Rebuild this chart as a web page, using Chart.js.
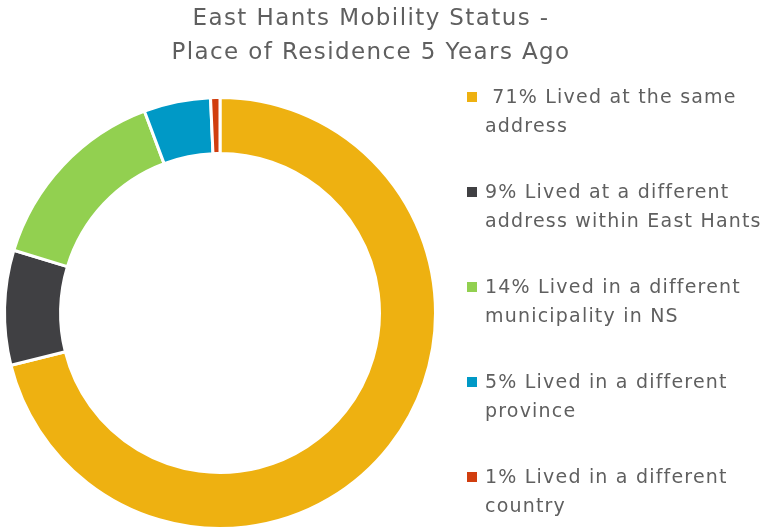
<!DOCTYPE html>
<html>
<head>
<meta charset="utf-8">
<script src="https://cdn.jsdelivr.net/npm/chart.js@4.4.0/dist/chart.umd.min.js"></script>
<style>
  html, body { margin: 0; padding: 0; background: #fff; }
  #wrap { position: relative; width: 764px; height: 531px; overflow: hidden; font-family: "DejaVu Sans", sans-serif; color: #5f5f5f; }
  #pie { position: absolute; left: 0; top: 0; }
  #title { position: absolute; left: 0; width: 742px; top: 0; text-align: center; font-size: 23px; line-height: 34px; letter-spacing: 1.4px; }
  .item { position: absolute; left: 467px; width: 297px; font-size: 19px; line-height: 29px; letter-spacing: 1.2px; }
  .item .box { position: absolute; left: 0; top: 10px; width: 10px; height: 10px; }
  .item .txt { margin-left: 18px; white-space: pre; }
</style>
</head>
<body>
<div id="wrap">
  <canvas id="pie" width="764" height="531"></canvas>
  <div id="title">East Hants Mobility Status -<br>Place of Residence 5 Years Ago</div>
  <div id="legend"></div>
</div>
<script>
const categories = [
  " 71% Lived at the same\naddress",
  "9% Lived at a different\naddress within East Hants",
  "14% Lived in a different\nmunicipality in NS",
  "5% Lived in a different\nprovince",
  "1% Lived in a different\ncountry"
];
const shares = [71.1, 8.6, 14.6, 5.0, 0.7];
const colors = ["#EEB111", "#404043", "#92D050", "#0099C6", "#D13E0F"];

const legend = document.getElementById("legend");
categories.forEach((cat, i) => {
  const div = document.createElement("div");
  div.className = "item";
  div.style.top = (82 + i * 95) + "px";
  const box = document.createElement("div");
  box.className = "box";
  box.style.background = colors[i];
  const txt = document.createElement("div");
  txt.className = "txt";
  txt.textContent = cat;
  div.appendChild(box);
  div.appendChild(txt);
  legend.appendChild(div);
});

new Chart(document.getElementById("pie"), {
  type: "doughnut",
  data: {
    labels: categories,
    datasets: [{
      data: shares,
      backgroundColor: colors,
      borderColor: "#fff",
      borderWidth: 3
    }]
  },
  options: {
    responsive: false,
    animation: false,
    cutout: "74%",
    layout: { padding: { left: 3, right: 327, top: 96, bottom: 1 } },
    plugins: {
      legend: { display: false },
      tooltip: { enabled: false },
      title: { display: false }
    }
  }
});
</script>
</body>
</html>
